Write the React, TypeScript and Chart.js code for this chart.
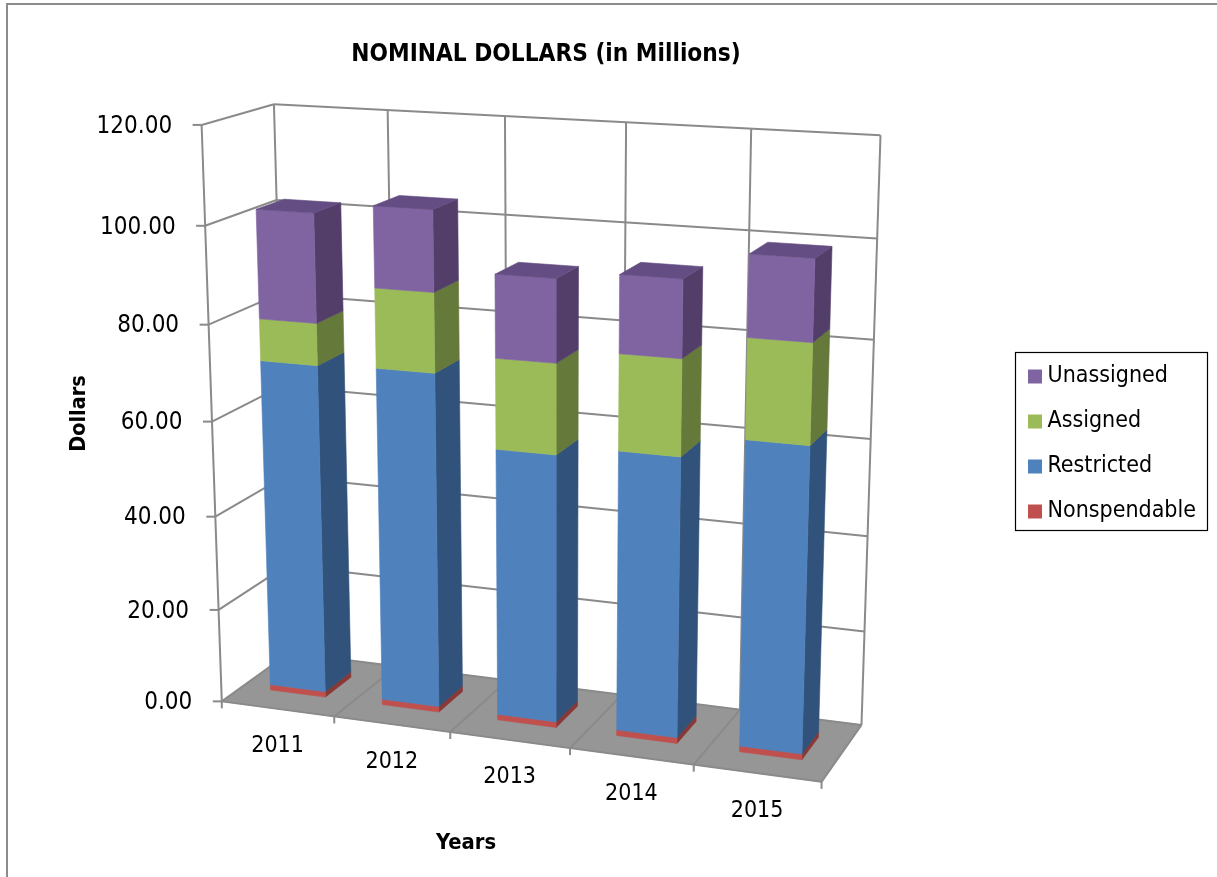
import React, { useEffect, useRef } from "react";
import { Chart, registerables, LinearScale, CategoryScale } from "chart.js";

const categories = ["2011", "2012", "2013", "2014", "2015"];
const nonspendable = [1.2, 1.2, 1.2, 1.2, 1.2];
const restricted = [69.8, 70.3, 55.9, 57.9, 62.5];
const assigned = [8.7, 16.35, 18.5, 19.45, 20];
const unassigned = [22.4, 16.5, 16.8, 15.55, 16.05];

const FONT = '"DejaVu Sans Condensed", "DejaVu Sans", sans-serif';
const GRID = "#8a8a8a";
const FLOOR = "#969696";
const sideColors = ["#8a3836", "#31527a", "#65793a", "#533e6a"];
const topColor = "#644d82";
const BAR_FRACTION = 0.495;
const DEPTH_FRONT = 0.3;
const DEPTH_BACK = 0.7;

// Camera calibration: [across, up, depth] -> picture position of the chart's frame.
const anchors: number[][] = [
  [0, 1, 0, 202.7, 125],
  [0, 0, 0, 221.7, 700.7],
  [1, 0, 0, 821.7, 781.7],
  [0, 1, 1, 273.3, 104.3],
  [0, 0, 1, 290, 653],
  [1, 1, 1, 881, 135],
  [1, 0, 1, 861.7, 724.3],
  [0, 100 / 120, 0, 205, 225.3],
  [0, 100 / 120, 1, 276, 200],
  [1, 100 / 120, 1, 876.7, 238.3],
  [0.2, 0, 0, 334, 716.7],
  [0.4, 0, 0, 450, 732.7],
  [0.8, 0, 0, 693.3, 765],
  [0.8, 1, 1, 751.3, 129.3],
];

function solveCamera(): number[] {
  const rows: number[][] = [];
  const rhs: number[] = [];
  for (const [X, Y, Z, px, py] of anchors) {
    const x = px / 1000;
    const y = py / 1000;
    rows.push([X, Y, Z, 1, 0, 0, 0, 0, -x * X, -x * Y, -x * Z]);
    rhs.push(x);
    rows.push([0, 0, 0, 0, X, Y, Z, 1, -y * X, -y * Y, -y * Z]);
    rhs.push(y);
  }
  const n = 11;
  const m: number[][] = [];
  for (let i = 0; i < n; i++) {
    const r = new Array(n + 1).fill(0);
    rows.forEach((row, k) => {
      for (let j = 0; j < n; j++) r[j] += row[i] * row[j];
      r[n] += row[i] * rhs[k];
    });
    m.push(r);
  }
  for (let i = 0; i < n; i++) {
    let piv = i;
    for (let k = i + 1; k < n; k++) if (Math.abs(m[k][i]) > Math.abs(m[piv][i])) piv = k;
    [m[i], m[piv]] = [m[piv], m[i]];
    for (let k = 0; k < n; k++) {
      if (k === i) continue;
      const f = m[k][i] / m[i][i];
      for (let j = i; j <= n; j++) m[k][j] -= f * m[i][j];
    }
  }
  return m.map((r, i) => r[n] / r[i]);
}
const cam = solveCamera();

function project(u: number, v: number, w: number): [number, number] {
  const d = cam[8] * u + cam[9] * v + cam[10] * w + 1;
  return [
    (1000 * (cam[0] * u + cam[1] * v + cam[2] * w + cam[3])) / d,
    (1000 * (cam[4] * u + cam[5] * v + cam[6] * w + cam[7])) / d,
  ];
}

class PerspectiveLinear extends (LinearScale as any) {
  static id = "perspectiveLinear";
  static defaults = (LinearScale as any).defaults;
  _computeLabelItems(area: any) {
    const items = super._computeLabelItems(area);
    items.forEach((it: any, i: number) => {
      const v = (this.bottom - this.getPixelForTick(i)) / (this.bottom - this.top);
      const [x, y] = project(0, v, 0);
      it.options.translation = [x - 29.5, y + 1.5];
      it.options.textAlign = "right";
      it.options.textBaseline = "middle";
      it.textOffset = 0;
    });
    return items;
  }
}

class PerspectiveCategory extends (CategoryScale as any) {
  static id = "perspectiveCategory";
  static defaults = (CategoryScale as any).defaults;
  _computeLabelItems(area: any) {
    const items = super._computeLabelItems(area);
    items.forEach((it: any, i: number) => {
      const u = (this.getPixelForTick(i) - this.left) / (this.right - this.left);
      const [x, y] = project(u, 0, 0);
      it.options.translation = [x, y + 37.5];
      it.options.textAlign = "center";
      it.options.textBaseline = "middle";
      it.textOffset = 0;
    });
    return items;
  }
}

Chart.register(...registerables, PerspectiveLinear as any, PerspectiveCategory as any);

function poly(ctx: CanvasRenderingContext2D, pts: [number, number][], fill: string) {
  ctx.beginPath();
  pts.forEach((p, i) => (i ? ctx.lineTo(p[0], p[1]) : ctx.moveTo(p[0], p[1])));
  ctx.closePath();
  ctx.fillStyle = fill;
  ctx.strokeStyle = fill;
  ctx.lineWidth = 0.6;
  ctx.lineJoin = "round";
  ctx.fill();
  ctx.stroke();
}

function seg(ctx: CanvasRenderingContext2D, a: [number, number], b: [number, number]) {
  ctx.beginPath();
  ctx.moveTo(a[0], a[1]);
  ctx.lineTo(b[0], b[1]);
  ctx.stroke();
}

const scene3d = {
  id: "scene3d",
  afterLayout(chart: any) {
    if (chart.titleBlock) {
      chart.titleBlock.left = 0;
      chart.titleBlock.right = 1092;
    }
    const lg = chart.legend;
    if (lg) {
      const w = lg.right - lg.left;
      const h = lg.bottom - lg.top;
      lg.left = 1012;
      lg.right = 1012 + w;
      lg.top = 343;
      lg.bottom = 343 + h;
    }
  },
  beforeDraw(chart: any) {
    const { ctx, width, height } = chart;
    ctx.save();
    ctx.fillStyle = "#ffffff";
    ctx.fillRect(0, 0, width, height);
    ctx.fillStyle = "#8c8c8c";
    ctx.fillRect(6, 3, width - 6, 2);
    ctx.fillRect(6, 3, 2, height - 3);
    ctx.strokeStyle = "#000000";
    ctx.lineWidth = 1.2;
    ctx.strokeRect(1015.5, 352.5, 192, 178);
    ctx.restore();
  },
  beforeDatasetsDraw(chart: any) {
    const { ctx, scales, chartArea } = chart;
    const ys = scales.y;
    const W = chartArea.right - chartArea.left;
    const H = chartArea.bottom - chartArea.top;
    ctx.save();

    poly(ctx, [project(0, 0, 0), project(1, 0, 0), project(1, 0, 1), project(0, 0, 1)], FLOOR);

    ctx.strokeStyle = GRID;
    ctx.lineWidth = 2;
    ctx.lineCap = "butt";
    const vs: number[] = ys.ticks.map((t: any) => (chartArea.bottom - ys.getPixelForValue(t.value)) / H);
    vs.forEach((v) => {
      if (v > 0.001) {
        const front = project(0, v, 0);
        seg(ctx, [front[0] - 9, front[1]], front);
        seg(ctx, front, project(0, v, 1));
        seg(ctx, project(0, v, 1), project(1, v, 1));
      } else {
        const front = project(0, 0, 0);
        seg(ctx, [front[0] - 9, front[1]], front);
      }
    });
    seg(ctx, project(0, 0, 0), project(0, 1, 0));
    const n = categories.length;
    for (let i = 0; i <= n; i++) {
      const u = i / n;
      seg(ctx, project(u, 0, 1), project(u, 1, 1));
      seg(ctx, project(u, 0, 0), project(u, 0, 1));
      const p = project(u, 0, 0);
      seg(ctx, p, [p[0], p[1] + 7]);
    }
    seg(ctx, project(0, 0, 0), project(1, 0, 0));
    seg(ctx, project(0, 0, 1), project(1, 0, 1));

    const count = chart.data.datasets.length;
    for (let c = 0; c < n; c++) {
      for (let d = 0; d < count; d++) {
        const el = chart.getDatasetMeta(d).data[c];
        const { x, y, base, width } = el.getProps(["x", "y", "base", "width"], true);
        const u0 = (x - width / 2 - chartArea.left) / W;
        const u1 = (x + width / 2 - chartArea.left) / W;
        const v0 = (chartArea.bottom - base) / H;
        const v1 = (chartArea.bottom - y) / H;
        const a = DEPTH_FRONT;
        const b = DEPTH_BACK;
        poly(ctx, [project(u1, v0, a), project(u1, v0, b), project(u1, v1, b), project(u1, v1, a)], sideColors[d]);
        poly(ctx, [project(u0, v0, a), project(u1, v0, a), project(u1, v1, a), project(u0, v1, a)], chart.data.datasets[d].backgroundColor);
        if (d === count - 1) {
          poly(ctx, [project(u0, v1, a), project(u1, v1, a), project(u1, v1, b), project(u0, v1, b)], topColor);
        }
      }
    }
    ctx.restore();
    return false;
  },
};

export default function App() {
  const ref = useRef<HTMLCanvasElement>(null);
  useEffect(() => {
    const chart = new Chart(ref.current as HTMLCanvasElement, {
      type: "bar",
      data: {
        labels: categories,
        datasets: [
          { label: "Nonspendable", data: nonspendable, backgroundColor: "#C0504D" },
          { label: "Restricted", data: restricted, backgroundColor: "#4F81BD" },
          { label: "Assigned", data: assigned, backgroundColor: "#9BBB59" },
          { label: "Unassigned", data: unassigned, backgroundColor: "#8064A2" },
        ],
      },
      plugins: [scene3d as any],
      options: {
        responsive: false,
        animation: false,
        categoryPercentage: BAR_FRACTION,
        barPercentage: 1,
        layout: { padding: { left: 0, top: 0, bottom: 0, right: 294 } },
        plugins: {
          tooltip: { enabled: false },
          title: {
            display: true,
            text: "NOMINAL DOLLARS (in Millions)",
            color: "#000000",
            font: { family: FONT, size: 24.2, weight: "bold" },
            padding: { top: 40.5, bottom: 55.5 },
          },
          legend: {
            display: true,
            position: "right",
            align: "start",
            labels: {
              color: "#000000",
              font: { family: FONT, size: 23 },
              boxWidth: 2,
              boxHeight: 2,
              padding: 22,
              generateLabels: (c: any) =>
                (Chart as any).defaults.plugins.legend.labels
                  .generateLabels(c)
                  .map((l: any) => ({ ...l, lineWidth: 12, strokeStyle: l.fillStyle }))
                  .reverse(),
            },
          },
        },
        scales: {
          x: {
            type: "perspectiveCategory",
            stacked: true,
            afterFit: (s: any) => {
              s.height = 175;
            },
            grid: { display: false },
            border: { display: false },
            ticks: {
              color: "#000000",
              font: { family: FONT, size: 23 },
              autoSkip: false,
              maxRotation: 0,
            },
            title: {
              display: true,
              text: "Years",
              color: "#000000",
              font: { family: FONT, size: 21.8, weight: "bold" },
              padding: { top: 0, bottom: 21 },
            },
          },
          y: {
            type: "perspectiveLinear",
            stacked: true,
            min: 0,
            max: 120,
            afterFit: (s: any) => {
              s.width = 203;
            },
            grid: { display: false },
            border: { display: false },
            ticks: {
              stepSize: 20,
              color: "#000000",
              font: { family: FONT, size: 24 },
              callback: (v: any) => Number(v).toFixed(2),
            },
            title: {
              display: true,
              text: "Dollars",
              color: "#000000",
              font: { family: FONT, size: 21.5, weight: "bold" },
              padding: { top: 67, bottom: 0 },
            },
          },
        },
      } as any,
    });
    return () => chart.destroy();
  }, []);
  return (
    <canvas
      ref={ref}
      width={1217}
      height={877}
      style={{ position: "fixed", left: 0, top: 0, display: "block", width: 1217, height: 877 }}
    />
  );
}
